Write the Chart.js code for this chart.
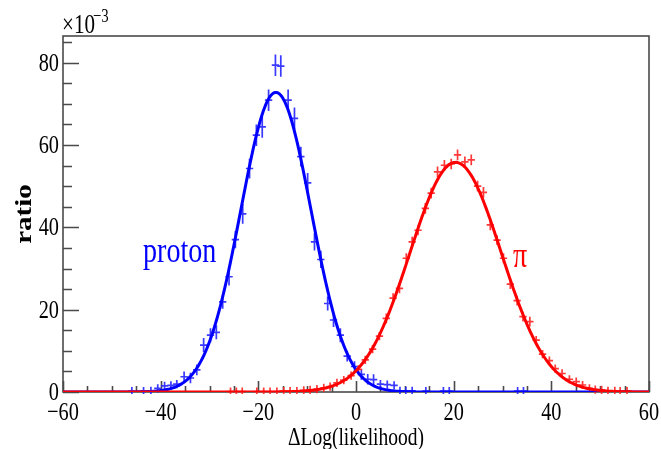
<!DOCTYPE html>
<html>
<head>
<meta charset="utf-8">
<script src="https://cdn.jsdelivr.net/npm/chart.js@4/dist/chart.umd.min.js"></script>
<style>
  html, body { margin: 0; padding: 0; background: #ffffff; }
  #wrap { width: 661px; height: 449px; }
</style>
</head>
<body>
<div id="wrap"><canvas id="c" width="661" height="449"></canvas></div>
<script>
// proton sample: bin centres, ratio (x10^-3) and vertical errors
const protonX = [-45.9,-43.5,-42.0,-40.6,-39.2,-37.9,-36.7,-35.2,-33.9,-32.6,-31.2,-29.8,-28.6,-27.3,-26.0,-24.7,-23.2,-21.8,-20.4,-19.2,-17.9,-16.5,-15.4,-13.9,-12.6,-11.3,-9.9,-8.5,-7.2,-5.8,-4.6,-3.2,-1.8,-0.3,1.1,2.4,3.6,5.0,6.4,7.8,9.0,10.2,11.5,14.3,17.9,19.1,33.1,34.3];
const protonY = [0.2,0.2,0.3,0.9,1.5,1.6,1.9,3.7,3.4,5.4,11.4,13.8,14.5,21.9,28.0,37.0,43.3,54.3,62.4,64.4,70.9,79.4,79.2,70.9,66.5,57.2,50.8,36.5,32.2,21.5,17.5,13.8,8.7,6.2,4.3,3.1,3.0,1.9,1.8,1.6,0.3,0.3,0.3,0.2,0.2,0.2,0.2,0.2];
const protonErr = [1.0,1.0,1.0,1.0,1.0,1.0,1.0,1.3,1.3,1.3,1.7,1.7,1.7,1.7,2.1,2.1,2.4,2.4,2.6,2.6,2.6,2.6,2.6,2.6,2.6,2.4,2.4,2.1,2.1,1.7,1.7,1.7,1.3,1.3,1.3,1.3,1.3,1.0,1.0,1.0,1.0,1.0,1.0,1.0,1.0,1.0,1.0,1.0];

// pion sample
const pionX = [-25.7,-24.5,-23.3,-20.3,-18.9,-17.6,-16.2,-14.8,-13.5,-12.1,-10.7,-9.4,-8.0,-6.6,-5.3,-3.9,-2.5,-1.0,0.5,1.9,3.4,4.8,6.2,7.6,8.9,10.3,11.5,12.7,14.2,15.4,16.7,18.1,19.5,20.8,22.3,23.6,24.9,26.1,27.5,28.9,30.2,31.6,33.0,34.2,35.6,36.9,38.2,39.6,40.8,42.2,43.7,45.1,46.4,47.8,49.0,50.3,51.6,53.0,54.1,55.5];
const pionY = [0.1,0.1,0.1,0.1,0.1,0.1,0.1,0.2,0.2,0.2,0.4,0.5,0.7,1.0,1.3,2.2,2.9,4.0,5.5,7.8,10.4,13.6,17.9,22.8,25.2,32.5,36.5,39.3,44.6,48.3,53.5,55.1,55.4,57.6,55.9,56.4,50.0,48.5,40.6,36.9,32.5,26.2,22.2,18.3,17.1,12.6,9.2,7.6,5.7,4.5,3.1,2.5,1.7,0.9,0.6,0.5,0.3,0.3,0.2,0.2];
const pionErr = [1.0,1.0,1.0,1.0,1.0,1.0,1.0,1.0,1.0,1.0,1.0,1.0,1.0,1.0,1.0,1.0,1.0,1.0,1.0,1.0,1.0,1.0,1.2,1.2,1.2,1.2,1.2,1.2,1.3,1.3,1.3,1.3,1.3,1.3,1.3,1.3,1.3,1.3,1.3,1.2,1.2,1.2,1.2,1.2,1.2,1.0,1.0,1.0,1.0,1.0,1.0,1.0,1.0,1.0,1.0,1.0,1.0,1.0,1.0,1.0];

const binHalfWidth = 0.75;

// Gaussian fit results
const protonFitAmp = 72.8, protonFitMean = -16.4, protonFitSigma = 7.2;
const pionFitAmp = 55.8, pionFitMean = 20.4, pionFitSigma = 9.35;

// axis ranges and tick labels
const xMin = -60, xMax = 60, yMin = 0, yMax = 86.5;
const xTicks = [-60, -40, -20, 0, 20, 40, 60];
const yTicks = [0, 20, 40, 60, 80];
const xMinorStep = 5, yMinorStep = 5;

const gauss = (x, a, m, s) => a * Math.exp(-0.5 * ((x - m) / s) ** 2);
function fitCurve(a, m, s) {
  const pts = [];
  for (let x = xMin; x <= xMax + 1e-9; x += 0.25) pts.push({ x: x, y: gauss(x, a, m, s) });
  return pts;
}
const toPoints = (xs, ys) => xs.map((x, i) => ({ x: x, y: ys[i] }));

const SERIF = '"Liberation Serif", "DejaVu Serif", serif';
const SX = 0.78; // glyphs are drawn condensed horizontally

function drawText(ctx, s, x, y, font, color, align, baseline) {
  ctx.save();
  ctx.translate(x, y);
  ctx.scale(SX, 1);
  ctx.font = font;
  ctx.fillStyle = color;
  ctx.textAlign = align;
  ctx.textBaseline = baseline;
  ctx.fillText(s, 0, 0);
  ctx.restore();
}

// error-bar crosses for the histogram points
const crossPlugin = {
  id: 'crosses',
  beforeDatasetsDraw(chart) {
    const ctx = chart.ctx, xs = chart.scales.x, ys = chart.scales.y, a = chart.chartArea;
    ctx.save();
    ctx.beginPath();
    ctx.rect(a.left, a.top, a.right - a.left, a.bottom - a.top + 2);
    ctx.clip();
    const series = [
      [protonX, protonY, protonErr, 'rgba(35,35,255,0.9)'],
      [pionX, pionY, pionErr, 'rgba(255,35,35,0.9)']
    ];
    ctx.lineWidth = 1.7;
    for (const [X, Y, E, col] of series) {
      ctx.strokeStyle = col;
      ctx.beginPath();
      for (let i = 0; i < X.length; i++) {
        const px = xs.getPixelForValue(X[i]);
        const py = ys.getPixelForValue(Y[i]);
        ctx.moveTo(xs.getPixelForValue(X[i] - binHalfWidth), py);
        ctx.lineTo(xs.getPixelForValue(X[i] + binHalfWidth), py);
        ctx.moveTo(px, ys.getPixelForValue(Y[i] - E[i]));
        ctx.lineTo(px, ys.getPixelForValue(Y[i] + E[i]));
      }
      ctx.stroke();
    }
    ctx.restore();
  }
};

// frame, inward ticks and tick labels
const framePlugin = {
  id: 'frame',
  beforeDatasetsDraw(chart) {
    const ctx = chart.ctx, xs = chart.scales.x, ys = chart.scales.y, a = chart.chartArea;
    ctx.save();
    ctx.strokeStyle = '#4a4a4a';
    ctx.lineWidth = 1.6;
    ctx.strokeRect(a.left, a.top, a.right - a.left, a.bottom - a.top);
    ctx.beginPath();
    for (let v = xMin; v <= xMax; v += xMinorStep) {
      const px = Math.round(xs.getPixelForValue(v)) + 0.5;
      const len = xTicks.includes(v) ? 11 : 6;
      ctx.moveTo(px, a.bottom);
      ctx.lineTo(px, a.bottom - len);
    }
    for (let v = yMin; v <= yMax; v += yMinorStep) {
      const py = Math.round(ys.getPixelForValue(v)) + 0.5;
      const len = yTicks.includes(v) ? 16 : 9;
      ctx.moveTo(a.left, py);
      ctx.lineTo(a.left + len, py);
    }
    ctx.stroke();
    ctx.restore();
  },
  afterDraw(chart) {
    const ctx = chart.ctx, xs = chart.scales.x, ys = chart.scales.y, a = chart.chartArea;
    const tickFont = '26px ' + SERIF;
    for (const v of xTicks) {
      const s = (v < 0 ? '\u2212' : '') + Math.abs(v);
      drawText(ctx, s, xs.getPixelForValue(v), a.bottom + 28, tickFont, '#000', 'center', 'alphabetic');
    }
    for (const v of yTicks) {
      drawText(ctx, String(v), a.left - 4, ys.getPixelForValue(v) + 8, tickFont, '#000', 'right', 'alphabetic');
    }
    // axis titles
    drawText(ctx, '\u0394Log(likelihood)', (a.left + a.right) / 2, 445, '25px ' + SERIF, '#000', 'center', 'alphabetic');
    ctx.save();
    ctx.translate(31, (a.top + a.bottom) / 2);
    ctx.rotate(-Math.PI / 2);
    ctx.scale(1, SX);
    ctx.font = 'bold 29px ' + SERIF;
    ctx.fillStyle = '#000';
    ctx.textAlign = 'center';
    ctx.textBaseline = 'alphabetic';
    ctx.fillText('ratio', 0, 0);
    ctx.restore();
    // exponent of the y axis
    drawText(ctx, '\u00d710', 62, 33, '27px ' + SERIF, '#000', 'left', 'alphabetic');
    drawText(ctx, '\u22123', 93, 22, '19px ' + SERIF, '#000', 'left', 'alphabetic');
    // sample labels
    drawText(ctx, 'proton', 143, 262, '36px ' + SERIF, '#0000ff', 'left', 'alphabetic');
    drawText(ctx, '\u03c0', 513, 267, '36px ' + SERIF, '#ff0000', 'left', 'alphabetic');
  }
};

new Chart(document.getElementById('c'), {
  type: 'scatter',
  data: {
    datasets: [
      {
        label: 'pion fit',
        data: fitCurve(pionFitAmp, pionFitMean, pionFitSigma),
        showLine: true, pointRadius: 0, borderColor: '#ff0000', borderWidth: 3, tension: 0
      },
      {
        label: 'proton fit',
        data: fitCurve(protonFitAmp, protonFitMean, protonFitSigma),
        showLine: true, pointRadius: 0, borderColor: '#0000ff', borderWidth: 3, tension: 0
      },
      {
        label: 'pion',
        data: toPoints(pionX, pionY),
        showLine: false, pointRadius: 0, borderColor: 'rgba(0,0,0,0)'
      },
      {
        label: 'proton',
        data: toPoints(protonX, protonY),
        showLine: false, pointRadius: 0, borderColor: 'rgba(0,0,0,0)'
      }
    ]
  },
  options: {
    responsive: false,
    animation: false,
    devicePixelRatio: 1,
    layout: { padding: { left: 63, right: 12, top: 36, bottom: 57 } },
    plugins: { legend: { display: false }, tooltip: { enabled: false } },
    scales: {
      x: { type: 'linear', min: xMin, max: xMax, display: false },
      y: { type: 'linear', min: yMin, max: yMax, display: false }
    }
  },
  plugins: [framePlugin, crossPlugin]
});
</script>
</body>
</html>
